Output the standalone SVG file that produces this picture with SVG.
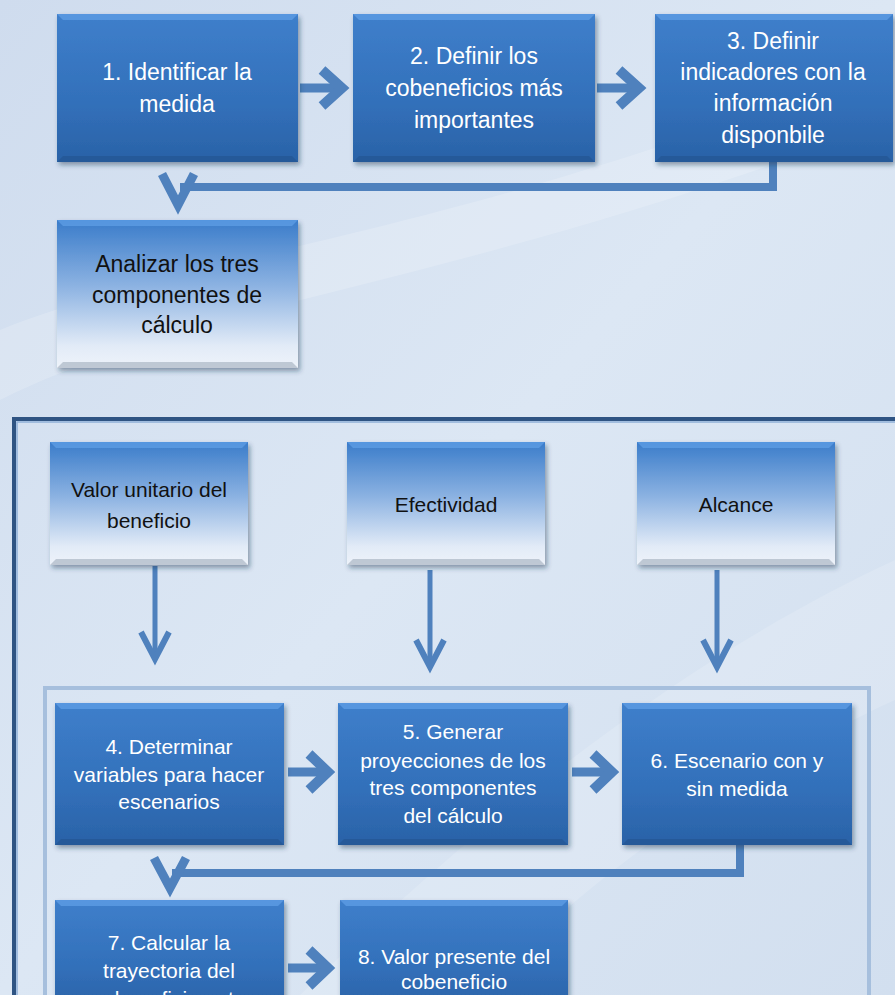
<svg xmlns="http://www.w3.org/2000/svg" width="895" height="995" viewBox="0 0 895 995">
<defs>
<linearGradient id="bg" x1="0" y1="0" x2="1" y2="1">
<stop offset="0" stop-color="#cfdcee"/>
<stop offset="0.5" stop-color="#dce7f4"/>
<stop offset="1" stop-color="#d2dfef"/>
</linearGradient>
<linearGradient id="dark" x1="0" y1="0" x2="0" y2="1">
<stop offset="0" stop-color="#3f7fcb"/>
<stop offset="0.6" stop-color="#3270ba"/>
<stop offset="1" stop-color="#2a62a7"/>
</linearGradient>
<linearGradient id="light" x1="0" y1="0" x2="0" y2="1">
<stop offset="0" stop-color="#3a7cca"/>
<stop offset="0.45" stop-color="#8db3e2"/>
<stop offset="0.85" stop-color="#e2ebf7"/>
<stop offset="1" stop-color="#eef3fa"/>
</linearGradient>
<filter id="sh" x="-10%" y="-10%" width="125%" height="130%">
<feDropShadow dx="2" dy="3" stdDeviation="2.5" flood-color="#1d3350" flood-opacity="0.45"/>
</filter>
</defs>
<style>
.dk{fill:url(#dark);filter:url(#sh)}
.lt{fill:url(#light);filter:url(#sh)}
.topb{fill:#5d9ce3;opacity:0.8}
.botb{fill:#204f8a;opacity:0.5}
.botl{fill:#b9c3cf;opacity:0.9}
.wt{font-family:"Liberation Sans",Arial,sans-serif;fill:#ffffff;text-anchor:middle}
.bk{font-family:"Liberation Sans",Arial,sans-serif;fill:#111111;text-anchor:middle}
.f23{font-size:23px}
.f21{font-size:21px}
.ar{fill:none;stroke:#4f81bd;stroke-linejoin:miter;stroke-linecap:butt}
</style>
<rect width="895" height="995" fill="url(#bg)"/>
<path d="M0 330 C200 250 450 240 895 60 L895 120 C450 290 200 300 0 400 Z" fill="#ffffff" opacity="0.18"/>
<path d="M300 995 C500 800 700 650 895 560 L895 700 C720 780 560 900 480 995 Z" fill="#ffffff" opacity="0.15"/>

<g id="connectors">
<path class="ar" stroke-width="9" d="M300 88 H338"/>
<path class="ar" stroke-width="10" d="M322 70 L342 88 L322 106"/>
<path class="ar" stroke-width="9" d="M597 88 H635"/>
<path class="ar" stroke-width="10" d="M619 70 L639 88 L619 106"/>
<path class="ar" stroke-width="8" d="M773 162 V187 H180"/>
<path class="ar" stroke-width="9" d="M162 174 L178 205 L194 174"/>
<path class="ar" stroke-width="5" d="M155 566 V657"/>
<path class="ar" stroke-width="6" d="M141 632 L155 659 L169 632"/>
<path class="ar" stroke-width="5" d="M430 570 V665"/>
<path class="ar" stroke-width="6" d="M416 640 L430 667 L444 640"/>
<path class="ar" stroke-width="5" d="M717 570 V665"/>
<path class="ar" stroke-width="6" d="M703 640 L717 667 L731 640"/>
<path class="ar" stroke-width="9" d="M288 772 H324"/>
<path class="ar" stroke-width="10" d="M309 754 L328 772 L309 790"/>
<path class="ar" stroke-width="9" d="M572 772 H608"/>
<path class="ar" stroke-width="10" d="M593 754 L612 772 L593 790"/>
<path class="ar" stroke-width="8" d="M740 845 V873 H172"/>
<path class="ar" stroke-width="9" d="M154 858 L170 888 L186 858"/>
<path class="ar" stroke-width="9" d="M288 968 H324"/>
<path class="ar" stroke-width="10" d="M309 950 L328 968 L309 986"/>
</g>

<g id="frame-outer">
<path d="M14 995 V419 H895" fill="none" stroke="#2f5483" stroke-width="4"/>
<path d="M17 995 V422 H895" fill="none" stroke="#8fb0d8" stroke-width="1.5"/>
</g>
<g id="frame-inner">
<path d="M45 995 V688 H869 V995" fill="none" stroke="#a6bfdd" stroke-width="4"/>
</g>

<g id="n1">
<rect class="dk" x="57" y="14" width="241" height="148"/>
<polygon class="topb" points="57,14 298,14 292,20 63,20"/>
<polygon class="botb" points="63,156 292,156 298,162 57,162"/>
<text class="wt f23" x="177" y="80">1. Identificar la</text>
<text class="wt f23" x="177" y="112">medida</text>
</g>
<g id="n2">
<rect class="dk" x="353" y="14" width="242" height="148"/>
<polygon class="topb" points="353,14 595,14 589,20 359,20"/>
<polygon class="botb" points="359,156 589,156 595,162 353,162"/>
<text class="wt f23" x="474" y="64">2. Definir los</text>
<text class="wt f23" x="474" y="96">cobeneficios más</text>
<text class="wt f23" x="474" y="128">importantes</text>
</g>
<g id="n3">
<rect class="dk" x="655" y="14" width="238" height="148"/>
<polygon class="topb" points="655,14 893,14 887,20 661,20"/>
<polygon class="botb" points="661,156 887,156 893,162 655,162"/>
<text class="wt f23" x="773" y="49">3. Definir</text>
<text class="wt f23" x="773" y="80">indicadores con la</text>
<text class="wt f23" x="773" y="111">información</text>
<text class="wt f23" x="773" y="143">disponbile</text>
</g>
<g id="n-analizar">
<rect class="lt" x="57" y="220" width="241" height="148"/>
<polygon class="topb" points="57,220 298,220 292,226 63,226"/>
<polygon class="botl" points="63,362 292,362 298,368 57,368"/>
<text class="bk f23" x="177" y="272">Analizar los tres</text>
<text class="bk f23" x="177" y="303">componentes de</text>
<text class="bk f23" x="177" y="333">cálculo</text>
</g>

<g id="n-valor">
<rect class="lt" x="50" y="442" width="198" height="123"/>
<polygon class="topb" points="50,442 248,442 242,448 56,448"/>
<polygon class="botl" points="56,559 242,559 248,565 50,565"/>
<text class="bk f21" x="149" y="497">Valor unitario del</text>
<text class="bk f21" x="149" y="528">beneficio</text>
</g>
<g id="n-efectividad">
<rect class="lt" x="347" y="442" width="198" height="123"/>
<polygon class="topb" points="347,442 545,442 539,448 353,448"/>
<polygon class="botl" points="353,559 539,559 545,565 347,565"/>
<text class="bk f21" x="446" y="512">Efectividad</text>
</g>
<g id="n-alcance">
<rect class="lt" x="637" y="442" width="198" height="123"/>
<polygon class="topb" points="637,442 835,442 829,448 643,448"/>
<polygon class="botl" points="643,559 829,559 835,565 637,565"/>
<text class="bk f21" x="736" y="512">Alcance</text>
</g>

<g id="n4">
<rect class="dk" x="55" y="703" width="229" height="142"/>
<polygon class="topb" points="55,703 284,703 278,709 61,709"/>
<polygon class="botb" points="61,839 278,839 284,845 55,845"/>
<text class="wt f21" x="169" y="754">4. Determinar</text>
<text class="wt f21" x="169" y="782">variables para hacer</text>
<text class="wt f21" x="169" y="809">escenarios</text>
</g>
<g id="n5">
<rect class="dk" x="338" y="703" width="230" height="142"/>
<polygon class="topb" points="338,703 568,703 562,709 344,709"/>
<polygon class="botb" points="344,839 562,839 568,845 338,845"/>
<text class="wt f21" x="453" y="739">5. Generar</text>
<text class="wt f21" x="453" y="768">proyecciones de los</text>
<text class="wt f21" x="453" y="795">tres componentes</text>
<text class="wt f21" x="453" y="823">del cálculo</text>
</g>
<g id="n6">
<rect class="dk" x="622" y="703" width="230" height="142"/>
<polygon class="topb" points="622,703 852,703 846,709 628,709"/>
<polygon class="botb" points="628,839 846,839 852,845 622,845"/>
<text class="wt f21" x="737" y="768">6. Escenario con  y</text>
<text class="wt f21" x="737" y="796">sin medida</text>
</g>
<g id="n7">
<rect class="dk" x="55" y="900" width="229" height="110"/>
<polygon class="topb" points="55,900 284,900 278,906 61,906"/>
<text class="wt f21" x="169" y="950">7. Calcular la</text>
<text class="wt f21" x="169" y="978">trayectoria del</text>
<text class="wt f21" x="169" y="1006">cobeneficio neto</text>
</g>
<g id="n8">
<rect class="dk" x="340" y="900" width="228" height="110"/>
<polygon class="topb" points="340,900 568,900 562,906 346,906"/>
<text class="wt f21" x="454" y="964">8. Valor presente del</text>
<text class="wt f21" x="454" y="989">cobeneficio</text>
</g>
</svg>
